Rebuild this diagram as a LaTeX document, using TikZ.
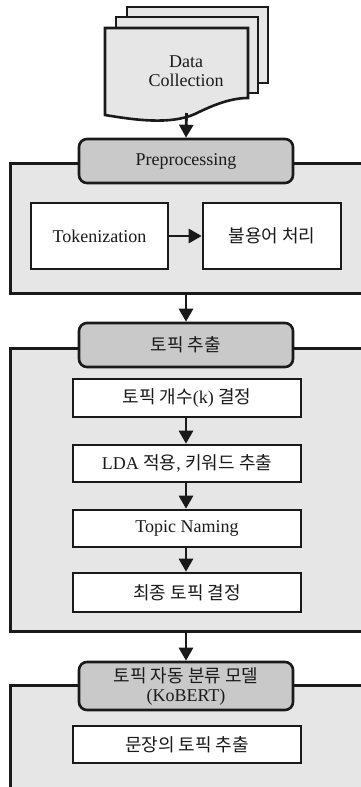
\documentclass[tikz,border=0pt]{standalone}
\usepackage{fontspec}
\setmainfont{Liberation Serif}
\newfontfamily\kr{Noto Sans CJK KR}
\usetikzlibrary{arrows.meta}
\definecolor{panelgray}{HTML}{E6E6E6}
\definecolor{headgray}{HTML}{C9C9C9}
\definecolor{inkc}{HTML}{1A1A1A}
\begin{document}
\begin{tikzpicture}[x=1pt,y=-1pt,
  every node/.style={font=\fontsize{18}{19}\selectfont, text=inkc},
  panel/.style={draw=inkc, line width=2.6pt, fill=panelgray, inner sep=0pt, anchor=north west},
  head/.style={draw=inkc, line width=2.6pt, fill=headgray, rounded corners=8pt, minimum width=214pt, minimum height=44pt, align=center, inner sep=0pt},
  stepbox/.style={draw=inkc, line width=2.6pt, fill=white, minimum width=228pt, minimum height=38pt, inner sep=0pt, align=center},
  doc/.style={draw=inkc, line width=2.6pt, fill=panelgray},
  arr/.style={draw=inkc, line width=2.8pt, -{Triangle[length=13pt,width=14pt]}},
]
\useasboundingbox (0,0) rectangle (361,787);
\clip (0,0) rectangle (361,787);

% document stack
\filldraw[doc] (127,7) rectangle (268,83);
\filldraw[doc] (116,17) rectangle (258,93);
\filldraw[doc] (105,28) -- (248,28) -- (248,98)
  .. controls (232,98) and (215,104) .. (195,114)
  .. controls (170,125) and (135,120) .. (105,115) -- cycle;
\node[align=center] (dc) at (186,71) {Data\\Collection};
\coordinate (dcb) at (186.5,113);

% panels
\node[panel, minimum width=400pt, minimum height=130pt] (p1) at (9,162) {};
\node[panel, minimum width=400pt, minimum height=283pt] (p2) at (9,347) {};
\node[panel, minimum width=400pt, minimum height=150pt] (p3) at (9,684) {};

% headers
\node[head] (h1) at (186,161) {Preprocessing};
\node[head] (h2) at (186,345) {\kr 토픽 추출};
\node[head, minimum height=48pt] (h3) at (186,686) {{\kr 토픽 자동 분류 모델}\\(KoBERT)};

% preprocessing boxes
\node[stepbox, minimum width=137pt, minimum height=66pt] (tok) at (99.5,236) {Tokenization};
\node[stepbox, minimum width=138pt, minimum height=66pt] (stop) at (272,236) {\kr 불용어 처리};

% topic extraction boxes
\node[stepbox] (b1) at (187,398) {{\kr 토픽 개수}(k) {\kr 결정}};
\node[stepbox, minimum height=37pt] (b2) at (187,463.5) {LDA {\kr 적용}, {\kr 키워드 추출}};
\node[stepbox, minimum height=37pt] (b3) at (187,528.5) {Topic Naming};
\node[stepbox, minimum height=39pt] (b4) at (187,592.5) {\kr 최종 토픽 결정};

% classification box
\node[stepbox, minimum height=37pt] (b5) at (187,744.5) {\kr 문장의 토픽 추출};

% connectors
\draw[arr] (dcb) -- (h1.north);
\draw[arr] (tok.east) -- (stop.west);
\draw[arr] (h2.north |- p1.south) -- (h2.north);
\draw[arr] (b1.south -| h2.north) -- (b2.north -| h2.north);
\draw[arr] (b2.south -| h2.north) -- (b3.north -| h2.north);
\draw[arr] (b3.south -| h2.north) -- (b4.north -| h2.north);
\draw[arr] (h3.north |- p2.south) -- (h3.north);
\end{tikzpicture}
\end{document}
